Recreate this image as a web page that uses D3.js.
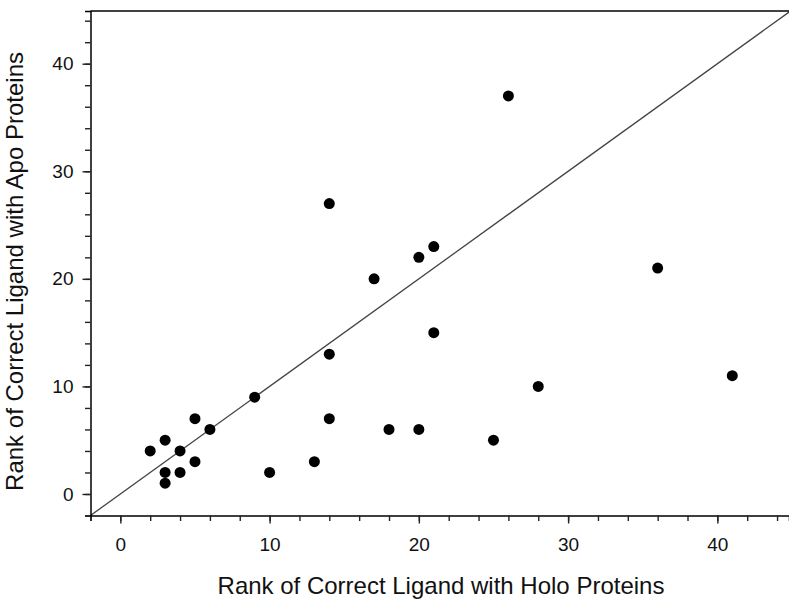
<!DOCTYPE html>
<html><head><meta charset="utf-8">
<script src="https://cdn.jsdelivr.net/npm/d3@7"></script>
<style>
html,body{margin:0;padding:0;background:#fff;}
svg{display:block;font-family:"Liberation Sans",Arial,sans-serif;}
</style></head>
<body><svg id="c" width="789" height="599"></svg>
<script>
// Data: rank with holo (x) vs rank with apo (y)
const holoRank = [2,3,3,3,4,4,5,5,6,9,10,13,14,14,14,17,18,20,20,21,21,25,26,28,36,41];
const apoRank  = [4,5,2,1,4,2,7,3,6,9,2,3,27,13,7,20,6,22,6,23,15,5,37,10,21,11];
const majorTicks = [0,10,20,30,40];
const minorTicks = d3.range(-2, 45, 2);
const xTitle = "Rank of Correct Ligand with Holo Proteins";
const yTitle = "Rank of Correct Ligand with Apo Proteins";

const svg = d3.select("#c");
const x = d3.scaleLinear().domain([-2, 44.8]).range([90.5, 789]);
const y = d3.scaleLinear().domain([-2, 44.9]).range([515.5, 11]);

// clip for diagonal
svg.append("clipPath").attr("id","clip").append("rect")
  .attr("x", x(-2)).attr("y", y(44.9)).attr("width", x(44.8)-x(-2)).attr("height", y(-2)-y(44.9));

// diagonal y = x
svg.append("line").attr("clip-path","url(#clip)")
  .attr("x1", x(-2)).attr("y1", y(-2)).attr("x2", x(46)).attr("y2", y(46))
  .attr("stroke","#444").attr("stroke-width",1.3);

// top border
svg.append("line").attr("x1", x(-2)).attr("x2", 789).attr("y1", y(44.9)).attr("y2", y(44.9))
  .attr("stroke","#000").attr("stroke-width",1.5);

const fontFam = "Liberation Sans, Arial, sans-serif";

// X axis
const gx = svg.append("g").attr("transform",`translate(0,${y(-2)})`);
gx.call(d3.axisBottom(x).tickValues(minorTicks).tickSize(5.5).tickFormat(""));
const gxM = svg.append("g").attr("transform",`translate(0,${y(-2)})`);
gxM.call(d3.axisBottom(x).tickValues(majorTicks).tickSize(8).tickPadding(14).tickFormat(d3.format("d")));
gxM.select(".domain").remove();
[gx,gxM].forEach(g=>{
  g.select(".domain").attr("stroke","#000").attr("stroke-width",1.5);
  g.selectAll(".tick line").attr("stroke","#222").attr("stroke-width",1.4);
  g.selectAll("text").attr("font-size",19).attr("fill","#111").attr("font-family",fontFam);
});

// Y axis
const gy = svg.append("g").attr("transform",`translate(${x(-2)},0)`);
gy.call(d3.axisLeft(y).tickValues(minorTicks).tickSize(5.5).tickFormat(""));
const gyM = svg.append("g").attr("transform",`translate(${x(-2)},0)`);
gyM.call(d3.axisLeft(y).tickValues(majorTicks).tickSize(8).tickPadding(9).tickFormat(d3.format("d")));
gyM.select(".domain").remove();
[gy,gyM].forEach(g=>{
  g.select(".domain").attr("stroke","#000").attr("stroke-width",1.5);
  g.selectAll(".tick line").attr("stroke","#222").attr("stroke-width",1.4);
  g.selectAll("text").attr("font-size",19).attr("fill","#111").attr("font-family",fontFam);
});

// points
svg.append("g").selectAll("circle").data(holoRank.map((h,i)=>[h,apoRank[i]]))
  .join("circle").attr("cx",d=>x(d[0])).attr("cy",d=>y(d[1])).attr("r",5.5).attr("fill","#000");

// titles
svg.append("text").attr("x",441).attr("y",594).attr("text-anchor","middle")
  .attr("font-size",24).attr("fill","#111").text(xTitle);
svg.append("text").attr("transform","translate(23,52) rotate(-90)").attr("text-anchor","end")
  .attr("font-size",24).attr("fill","#111").text(yTitle);
</script></body></html>
